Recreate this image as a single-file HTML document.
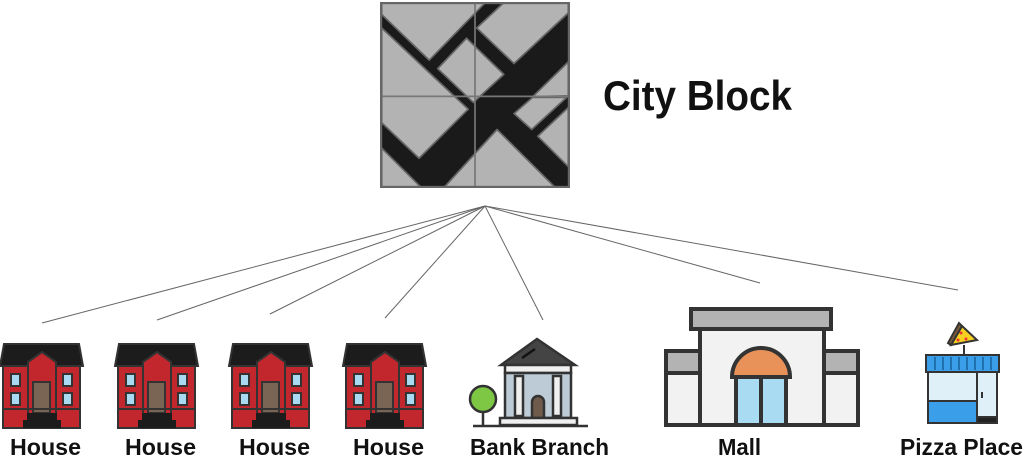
<!DOCTYPE html>
<html><head><meta charset="utf-8"><style>
html,body{margin:0;padding:0;background:#fff;width:1024px;height:461px;overflow:hidden}
text{font-family:"Liberation Sans",sans-serif;font-weight:bold;fill:#111}
</style></head><body>
<svg width="1024" height="461" viewBox="0 0 1024 461" xmlns="http://www.w3.org/2000/svg">
<defs>
<g id="house">
  <polygon points="4,0 79,0 83,22 0,22" fill="#1c1c1c" stroke="#333" stroke-width="2"/>
  <rect x="3" y="22" width="77" height="62" fill="#c1272d" stroke="#333" stroke-width="2"/>
  <polygon points="28,18 42,8 56,18 56,70 28,70" fill="#c1272d" stroke="#333" stroke-width="2"/>
  <rect x="33" y="38" width="17" height="31" fill="#7a6454" stroke="#333" stroke-width="2"/>
  <rect x="11" y="30" width="9" height="12" fill="#a9daf1" stroke="#333" stroke-width="2"/>
  <rect x="11" y="49" width="9" height="12" fill="#a9daf1" stroke="#333" stroke-width="2"/>
  <rect x="63" y="30" width="9" height="12" fill="#a9daf1" stroke="#333" stroke-width="2"/>
  <rect x="63" y="49" width="9" height="12" fill="#a9daf1" stroke="#333" stroke-width="2"/>
  <line x1="3" y1="65" x2="80" y2="65" stroke="#333" stroke-width="2"/>
  <rect x="27" y="69" width="30" height="7" fill="#1c1c1c"/>
  <rect x="23" y="76" width="38" height="8" fill="#1c1c1c"/>
</g>
</defs>
<g stroke="#666" stroke-width="1">
<line x1="485" y1="206" x2="42" y2="323"/>
<line x1="485" y1="206" x2="157" y2="320"/>
<line x1="485" y1="206" x2="270" y2="314"/>
<line x1="485" y1="206" x2="385" y2="318"/>
<line x1="485" y1="206" x2="543" y2="320"/>
<line x1="485" y1="206" x2="760" y2="283"/>
<line x1="485" y1="206" x2="958" y2="290"/>
</g>
<svg x="380" y="2" width="190" height="186" viewBox="35 8 560 550" preserveAspectRatio="none">
<rect x="35" y="8" width="560" height="550" fill="#1a1a1a"/>
<g fill="#b3b3b3" stroke="#666" stroke-width="5" stroke-linejoin="round">
<polygon points="40,10 345,10 180,180 40,45"/>
<polygon points="40,85 295,325 150,470 40,365"/>
<polygon points="40,440 155,555 40,555"/>
<polygon points="225,555 380,385 550,555"/>
<polygon points="500,405 590,320 590,495"/>
<polygon points="430,338 485,290 585,290 482,385"/>
<polygon points="590,185 485,288 590,285"/>
<polygon points="320,85 400,10 590,10 590,40 430,190"/>
<polygon points="205,205 290,115 400,222 310,305"/>
</g>
<line x1="315" y1="8" x2="315" y2="558" stroke="#777" stroke-width="5"/>
<line x1="35" y1="287" x2="595" y2="287" stroke="#777" stroke-width="5"/>
<rect x="37" y="10" width="556" height="546" fill="none" stroke="#666" stroke-width="9"/>
</svg>
<text x="603" y="110" font-size="42" textLength="189" lengthAdjust="spacingAndGlyphs">City Block</text>
<use href="#house" x="0" y="344"/>
<use href="#house" x="115" y="344"/>
<use href="#house" x="229" y="344"/>
<use href="#house" x="343" y="344"/>
<g font-size="23">
<text x="10" y="455" textLength="71" lengthAdjust="spacingAndGlyphs">House</text>
<text x="125" y="455" textLength="71" lengthAdjust="spacingAndGlyphs">House</text>
<text x="239" y="455" textLength="71" lengthAdjust="spacingAndGlyphs">House</text>
<text x="353" y="455" textLength="71" lengthAdjust="spacingAndGlyphs">House</text>
<text x="470" y="455" textLength="139" lengthAdjust="spacingAndGlyphs">Bank Branch</text>
<text x="718" y="455" textLength="43" lengthAdjust="spacingAndGlyphs">Mall</text>
<text x="900" y="455" textLength="123" lengthAdjust="spacingAndGlyphs">Pizza Place</text>
</g>
<g stroke="#333" stroke-width="2.5">
<line x1="473" y1="426" x2="588" y2="426"/>
<line x1="483" y1="400" x2="483" y2="426"/>
<circle cx="483" cy="399" r="13" fill="#7dc744"/>
<polygon points="501,365 537,339 575,365" fill="#444"/>
<line x1="522" y1="358" x2="535" y2="349" stroke="#111"/>
<rect x="505" y="365" width="66" height="8" fill="#f0f0f0"/>
<rect x="505" y="373" width="66" height="45" fill="#bccbd6"/>
<rect x="515" y="376" width="8" height="40" fill="#f0f0f0"/>
<rect x="553" y="376" width="8" height="40" fill="#f0f0f0"/>
<path d="M532,418 V402 a6,6 0 0 1 12,0 V418 Z" fill="#6f5b4c"/>
<rect x="500" y="418" width="77" height="7" fill="#f0f0f0"/>
</g>
<g stroke="#333" stroke-width="4">
<rect x="691" y="309" width="140" height="20" fill="#b3b3b3"/>
<rect x="666" y="351" width="192" height="74" fill="#f2f2f2"/>
<rect x="666" y="351" width="34" height="22" fill="#b3b3b3"/>
<rect x="824" y="351" width="34" height="22" fill="#b3b3b3"/>
<rect x="700" y="329" width="124" height="96" fill="#f2f2f2"/>
<path d="M732,377 a29,29 0 0 1 58,0 Z" fill="#e8925a"/>
<rect x="736" y="377" width="50" height="48" fill="#a9dcf3"/>
<line x1="761" y1="377" x2="761" y2="425"/>
</g>
<g stroke="#333" stroke-width="2">
<line x1="964" y1="345" x2="964" y2="355"/>
<polygon points="951,345 962,326 977,340" fill="#f5d020"/>
<path d="M951,345 L962,326 L959,323 L948,343Z" fill="#7a5a3a"/>
<rect x="926" y="355" width="73" height="17" fill="#3a9fe8"/>
<rect x="928" y="372" width="69" height="51" fill="#dff0f8"/>
<rect x="928" y="401" width="49" height="22" fill="#3a9fe8"/>
<line x1="977" y1="372" x2="977" y2="423"/>
<rect x="977" y="417" width="20" height="6" fill="#222"/>
<line x1="982" y1="392" x2="982" y2="398"/>
</g>
<g stroke="#1b5f9a" stroke-width="1.5">
<line x1="935" y1="357" x2="935" y2="370"/><line x1="943" y1="357" x2="943" y2="370"/><line x1="951" y1="357" x2="951" y2="370"/><line x1="959" y1="357" x2="959" y2="370"/><line x1="967" y1="357" x2="967" y2="370"/><line x1="975" y1="357" x2="975" y2="370"/><line x1="983" y1="357" x2="983" y2="370"/><line x1="991" y1="357" x2="991" y2="370"/>
</g>
<g fill="#e33"><circle cx="961" cy="333" r="1.5"/><circle cx="966" cy="339" r="1.5"/><circle cx="958" cy="340" r="1.5"/></g>
</svg>
</body></html>
